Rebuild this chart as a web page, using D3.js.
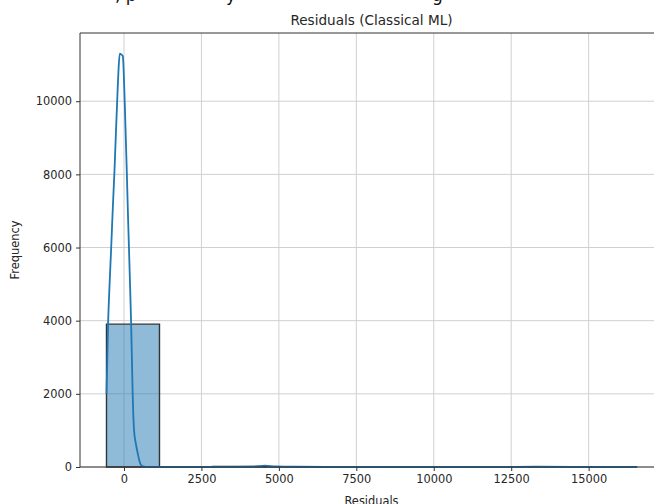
<!DOCTYPE html>
<html>
<head>
<meta charset="utf-8">
<script src="https://cdn.jsdelivr.net/npm/d3@7"></script>
<style>
  body { margin: 0; background: #fff; }
  svg { display: block; font-family: "DejaVu Sans", sans-serif; }
</style>
</head>
<body>
<svg id="chart" width="654" height="504"></svg>
<script>
// histogram bins (10 equal bins, seaborn histplot)
let binStart = -565;
let binWidth = 1711;
let binCounts = [3905, 6, 14, 3, 2, 4, 1, 2, 1, 2];

// kde curve (residual, scaled density)
let kdeX = [-565, -510, -465, -413, -360, -307, -262, -220, -180, -136, -90, -39, 30, 90, 125, 160, 195, 228, 255, 280, 300, 325, 380, 440, 495, 545, 610, 700, 900, 1500, 3000, 4200, 4550, 4900, 5500, 6500, 8000, 10000, 12000, 13300, 14500, 16545];
let kdeY = [2000, 4000, 5000, 6000, 7100, 8100, 9100, 10000, 10800, 11300, 11280, 11230, 9800, 8100, 7000, 6000, 5000, 4000, 3000, 2000, 1450, 1000, 650, 390, 180, 60, 20, 6, 2, 1, 2, 12, 35, 15, 8, 6, 2, 4, 2, 8, 2, 1];

// axis ticks
let xTicks = [0, 2500, 5000, 7500, 10000, 12500, 15000];
let yTicks = [0, 2000, 4000, 6000, 8000, 10000];

let svg = d3.select("#chart");

// plot area (right side runs past the picture edge)
let pLeft = 80, pRight = 663, pTop = 33, pBottom = 467;

let x = d3.scaleLinear().domain([-1420, 17400]).range([pLeft, pRight]);
let y = d3.scaleLinear().domain([0, 11865]).range([pBottom, pTop]);

// clipped notebook text above the figure (only descenders show)
let frags = [[", p", 115], ["y", 226], ["g", 432]];
frags.forEach(function (f) {
    svg.append("text")
    .attr("x", f[1])
    .attr("y", 1)
    .attr("font-size", 17)
    .attr("fill", "#111")
    .text(f[0]);
});

// grid
svg.append("g")
.selectAll("line")
.data(xTicks)
.join("line")
.attr("x1", d => x(d)).attr("x2", d => x(d))
.attr("y1", pTop).attr("y2", pBottom)
.attr("stroke", "#d0d0d0")
.attr("stroke-width", 1);
svg.append("g")
.selectAll("line")
.data(yTicks)
.join("line")
.attr("x1", pLeft).attr("x2", 654)
.attr("y1", d => y(d)).attr("y2", d => y(d))
.attr("stroke", "#d0d0d0")
.attr("stroke-width", 1);

// bars as paths so empty bins still show their edge
svg.append("g")
.selectAll("path")
.data(binCounts)
.join("path")
.attr("d", function (d, i) {
    let x0 = x(binStart + i * binWidth);
    let x1 = x(binStart + (i + 1) * binWidth);
    return "M" + x0 + "," + y(0) + "V" + y(d) + "H" + x1 + "V" + y(0) + "Z";
})
.attr("fill", "#1f77b4")
.attr("fill-opacity", 0.5)
.attr("stroke", "#333")
.attr("stroke-width", 1.4);

// kde line
let line = d3.line()
.x(d => x(d[0]))
.y(d => y(d[1]))
.curve(d3.curveMonotoneX);
svg.append("path")
.datum(kdeX.map((v, i) => [v, kdeY[i]]))
.attr("d", line)
.attr("fill", "none")
.attr("stroke", "#1f77b4")
.attr("stroke-width", 1.8);

// axes
let xAxis = svg.append("g")
.attr("transform", "translate(0," + pBottom + ")")
.call(d3.axisBottom(x).tickValues(xTicks).tickFormat(d3.format("d")).tickSize(4).tickPadding(4));
let yAxis = svg.append("g")
.attr("transform", "translate(" + pLeft + ",0)")
.call(d3.axisLeft(y).tickValues(yTicks).tickFormat(d3.format("d")).tickSize(4).tickPadding(4));
[xAxis, yAxis].forEach(function (a) {
    a.select(".domain").remove();
    a.selectAll("line").attr("stroke", "#333");
    a.selectAll("text").attr("font-size", 11.4).attr("fill", "#262626")
    .attr("font-family", "DejaVu Sans");
});

// spines: left, bottom, top
svg.append("line")
.attr("x1", pLeft).attr("x2", pLeft).attr("y1", pTop).attr("y2", pBottom)
.attr("stroke", "#333").attr("stroke-width", 1);
svg.append("line")
.attr("x1", pLeft).attr("x2", 654).attr("y1", pBottom).attr("y2", pBottom)
.attr("stroke", "#333").attr("stroke-width", 1);
svg.append("line")
.attr("x1", pLeft).attr("x2", 654).attr("y1", pTop).attr("y2", pTop)
.attr("stroke", "#333").attr("stroke-width", 1);

// title and labels
svg.append("text")
.attr("x", (pLeft + pRight) / 2)
.attr("y", 25)
.attr("text-anchor", "middle")
.attr("font-size", 13.6)
.attr("fill", "#262626")
.text("Residuals (Classical ML)");
svg.append("text")
.attr("x", (pLeft + pRight) / 2)
.attr("y", 505)
.attr("text-anchor", "middle")
.attr("font-size", 11.4)
.attr("fill", "#262626")
.text("Residuals");
svg.append("text")
.attr("transform", "translate(19," + (pTop + pBottom) / 2 + ") rotate(-90)")
.attr("text-anchor", "middle")
.attr("font-size", 11.4)
.attr("fill", "#262626")
.text("Frequency");
</script>
</body>
</html>
